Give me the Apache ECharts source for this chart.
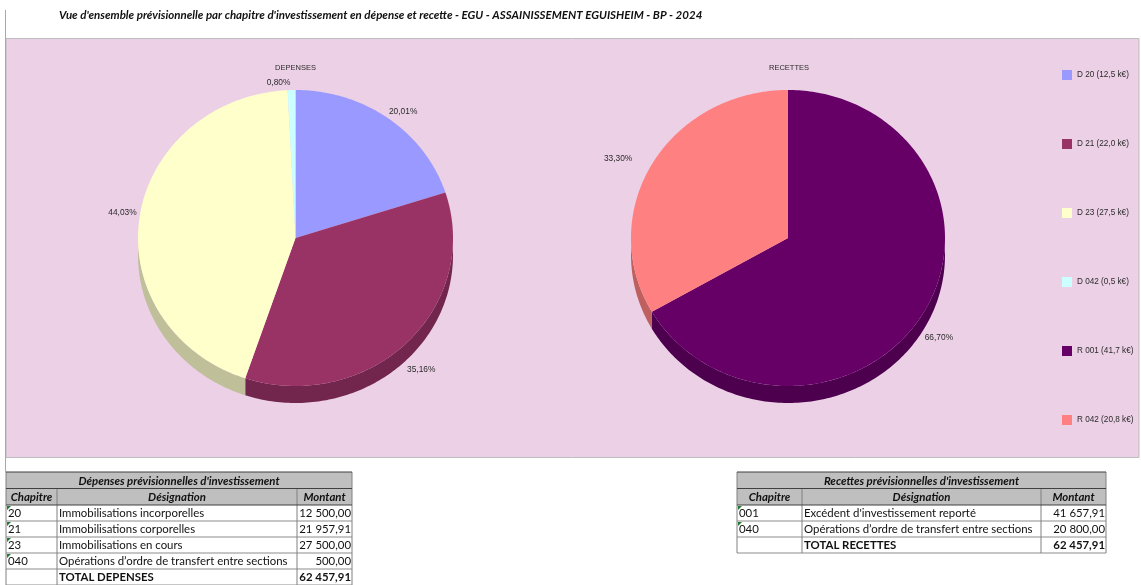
<!DOCTYPE html>
<html><head><meta charset="utf-8">
<style>html,body{margin:0;padding:0;background:#fff}#c{width:1141px;height:585px}</style>
<script src="https://cdn.jsdelivr.net/npm/echarts@6/dist/echarts.min.js"></script>
</head><body><div id="c"></div>
<script>
// ---- data ----
const mainTitle = "Vue d'ensemble prévisionnelle par chapitre d'investissement en dépense et recette - EGU - ASSAINISSEMENT EGUISHEIM - BP - 2024";
const depTitle = 'DEPENSES';
const recTitle = 'RECETTES';
const depLegend = ['D 20 (12,5 k€)', 'D 21 (22,0 k€)', 'D 23 (27,5 k€)', 'D 042 (0,5 k€)'];
const recLegend = ['R 001 (41,7 k€)', 'R 042 (20,8 k€)'];
const depValues = [12500.00, 21957.91, 27500.00, 500.00];
const recValues = [41657.91, 20800.00];
const depChapters = ['20', '21', '23', '040'];
const recChapters = ['001', '040'];
const depNames = ['Immobilisations incorporelles', 'Immobilisations corporelles', 'Immobilisations en cours', 'Opérations d’ordre de transfert entre sections'];
const recNames = ["Excédent d'investissement reporté", 'Opérations d’ordre de transfert entre sections'];
const depTableTitle = "Dépenses prévisionnelles d'investissement";
const recTableTitle = "Recettes prévisionnelles d'investissement";
const tableHeads = ['Chapitre', 'Désignation', 'Montant'];
const depTotalLabel = 'TOTAL DEPENSES';
const recTotalLabel = 'TOTAL RECETTES';

// ---- styles and layout ----
const depColors = ['#9999FF', '#993366', '#FFFFCC', '#CCFFFF'];
const recColors = ['#660066', '#FF8080'];
const depLabelShift = [[15, -7], [15, 26], [-17, -5], [-13, -7]];
const recLabelShift = [[15, 26], [-34, -5]];
const depPie = { cx: 295.5, cy: 238, rx: 157.5, ry: 148, depth: 17 };
const recPie = { cx: 788, cy: 238, rx: 157, ry: 148, depth: 17 };
const chartFont = '"Liberation Sans", Arial, sans-serif';
const cellFont = 'Lato, "Open Sans", sans-serif';

function darken(hex) {
  const n = parseInt(hex.slice(1), 16);
  const f = v => Math.round(v * 0.75);
  return `rgb(${f(n >> 16 & 255)},${f(n >> 8 & 255)},${f(n & 255)})`;
}
function pct(v, total) { return (v / total * 100).toFixed(2).replace('.', ',') + '%'; }
function money(v) {
  const [i, d] = v.toFixed(2).split('.');
  return i.replace(/\B(?=(\d{3})+$)/g, ' ') + ',' + d;
}
function sum(a) { return a.reduce((s, v) => s + v, 0); }

function sliceSeries(names, values, colors, shifts, pie) {
  const total = sum(values);
  let acc = 0;
  return names.map((name, i) => {
    const startDeg = acc / total * 360;
    acc += values[i];
    const endDeg = acc / total * 360;
    const color = colors[i];
    const pt = (deg, dy) => {
      const t = deg * Math.PI / 180;
      return [pie.cx + pie.rx * Math.sin(t), pie.cy - pie.ry * Math.cos(t) + (dy || 0)];
    };
    const arc = (a, b, dy) => {
      const out = [];
      const n = Math.max(2, Math.ceil((b - a) / 1));
      for (let k = 0; k <= n; k++) out.push(pt(a + (b - a) * k / n, dy));
      return out;
    };
    return {
      type: 'custom',
      name,
      coordinateSystem: 'none',
      silent: true,
      itemStyle: { color },
      data: [[values[i]]],
      renderItem() {
        const children = [];
        const wa = Math.max(startDeg, 90), wb = Math.min(endDeg, 270);
        if (wb > wa) {
          children.push({
            type: 'polygon',
            shape: { points: arc(wa, wb, 0).concat(arc(wa, wb, pie.depth).reverse()) },
            style: { fill: darken(color) }
          });
        }
        children.push({
          type: 'polygon',
          shape: { points: [[pie.cx, pie.cy]].concat(arc(startDeg, endDeg, 0)) },
          style: { fill: color }
        });
        const mid = pt((startDeg + endDeg) / 2, 0);
        children.push({
          type: 'text',
          style: {
            x: mid[0] + shifts[i][0], y: mid[1] + shifts[i][1],
            text: pct(values[i], total), fill: '#2b2b2b',
            font: '8.4px ' + chartFont, align: 'center', verticalAlign: 'middle'
          }
        });
        return { type: 'group', children };
      }
    };
  });
}

// ---- tables ----
function tableElements(x, cols, title, chapters, names, values, totalLabel) {
  const els = [];
  const right = cols[2];
  const ys = [472, 488.5, 505];
  const rowH = 16;
  const n = chapters.length + 1;
  for (let i = 1; i <= n; i++) ys.push(505 + i * rowH);
  const bottom = ys[ys.length - 1];
  const line = (x1, y1, x2, y2, stroke, w) => els.push({ type: 'line', silent: true,
    shape: { x1, y1, x2, y2 }, style: { stroke, lineWidth: w } });
  const text = (tx, ty, t, align, font, fill) => els.push({ type: 'text', silent: true,
    style: { x: tx, y: ty, text: t, align, verticalAlign: 'middle', font, fill: fill || '#111' } });
  els.push({ type: 'rect', silent: true, shape: { x, y: ys[0], width: right - x, height: ys[2] - ys[0] }, style: { fill: '#BFBFBF' } });
  // row rules
  for (let i = 3; i < ys.length - 1; i++) line(x, ys[i], right, ys[i], '#8C8C8C', 1);
  line(x, bottom, right, bottom, '#8C8C8C', 1);
  // column rules
  line(cols[0], ys[1], cols[0], bottom, '#808080', 1);
  line(cols[1], ys[1], cols[1], bottom, '#808080', 1);
  line(x, ys[0], x, bottom, '#808080', 1);
  line(right, ys[0], right, bottom, '#808080', 1);
  line(x, ys[0], right, ys[0], '#404040', 1.2);
  line(x, ys[1], right, ys[1], '#404040', 1.2);
  line(x, ys[2], right, ys[2], '#404040', 1.2);
  const bi = 'italic bold 11.4px ' + cellFont;
  const plain = '11.4px ' + cellFont;
  const bold = 'bold 11.4px ' + cellFont;
  text((x + right) / 2, ys[0] + 9, title, 'center', bi);
  text((x + cols[0]) / 2, ys[1] + 9, tableHeads[0], 'center', bi);
  text((cols[0] + cols[1]) / 2, ys[1] + 9, tableHeads[1], 'center', bi);
  text((cols[1] + right) / 2, ys[1] + 9, tableHeads[2], 'center', bi);
  chapters.forEach((c, i) => {
    const my = ys[2 + i] + 8.5;
    text(x + 2, my, c, 'left', plain);
    text(cols[0] + 2, my, names[i], 'left', plain);
    text(right - 1, my, money(values[i]), 'right', plain);
    els.push({ type: 'polygon', silent: true,
      shape: { points: [[x + 1, ys[2 + i] + 1], [x + 5, ys[2 + i] + 1], [x + 1, ys[2 + i] + 5]] },
      style: { fill: '#1E7B34' } });
  });
  const ty = ys[2 + chapters.length] + 8.5;
  text(cols[0] + 2, ty, totalLabel, 'left', bold);
  text(right - 1, ty, money(sum(values)), 'right', bold);
  return els;
}

const graphicElements = [
  { type: 'rect', silent: true, shape: { x: 6, y: 38.5, width: 1133, height: 419 },
    style: { fill: '#ECD0E6', stroke: '#BDBDBD', lineWidth: 1 } },
  { type: 'line', silent: true, shape: { x1: 5.5, y1: 10, x2: 5.5, y2: 472 }, style: { stroke: '#A8A8A8', lineWidth: 1 } }
].concat(
  tableElements(6, [57, 297, 352], depTableTitle, depChapters, depNames, depValues, depTotalLabel),
  tableElements(737, [802, 1041, 1106], recTableTitle, recChapters, recNames, recValues, recTotalLabel)
);

const chart = echarts.init(document.getElementById('c'), null, { renderer: 'canvas' });
chart.setOption({
  animation: false,
  backgroundColor: '#ffffff',
  tooltip: { show: false },
  title: [
    { text: mainTitle, left: 59, top: 9, padding: 0,
      textStyle: { fontFamily: cellFont, fontStyle: 'italic', fontWeight: 'bold', fontSize: 11.5, color: '#111' } },
    { text: depTitle, left: 295.5, top: 63.5, padding: 0, textAlign: 'center',
      textStyle: { fontFamily: chartFont, fontWeight: 'normal', fontSize: 7.5, color: '#2b2b2b' } },
    { text: recTitle, left: 789, top: 63.5, padding: 0, textAlign: 'center',
      textStyle: { fontFamily: chartFont, fontWeight: 'normal', fontSize: 7.5, color: '#2b2b2b' } }
  ],
  legend: {
    orient: 'vertical', left: 1062, top: 70, padding: 0,
    itemWidth: 10, itemHeight: 10, itemGap: 59, icon: 'rect',
    selectedMode: false,
    data: depLegend.concat(recLegend),
    textStyle: { fontFamily: chartFont, fontSize: 8.2, color: '#2b2b2b', padding: [1, 0, 0, 0] }
  },
  graphic: { elements: graphicElements },
  series: sliceSeries(depLegend, depValues, depColors, depLabelShift, depPie)
    .concat(sliceSeries(recLegend, recValues, recColors, recLabelShift, recPie))
});
</script></body></html>
